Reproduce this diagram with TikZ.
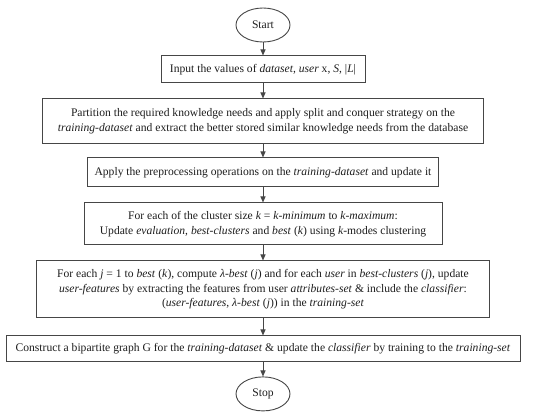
\documentclass[tikz,border=0pt]{standalone}
\usepackage{fontspec}
\setmainfont{Liberation Serif}
\usetikzlibrary{arrows.meta,positioning,shapes.geometric}
\definecolor{ink}{RGB}{30,30,30}
\definecolor{frame}{RGB}{70,70,70}
\tikzset{
  every picture/.style={color=ink, line width=0.6pt, font=\fontsize{11.6}{14.5}\selectfont},
  node distance=15pt,
  stepbox/.style={draw=frame, line width=1pt, fill=white, inner sep=3pt, align=center},
  term/.style={ellipse, draw=frame, line width=0.9pt, minimum width=54pt, minimum height=34pt, inner sep=1pt},
  flow/.style={-{Triangle[length=6pt,width=5pt]}, line width=1pt, color=frame},
}

\begin{document}
\begin{tikzpicture}
  \useasboundingbox (0,0) rectangle (550pt,-415pt);
  % terminals and steps, top to bottom
  \node[term] (start) at (263pt,-25pt) {Start};
  \node[stepbox, minimum width=204pt, minimum height=27pt, below=13pt of start] (input) {Input the values of \textit{dataset}, \textit{user} x, \textit{S}, |\textit{L}|};
  \node[stepbox, minimum width=441pt, minimum height=45pt, below=15pt of input] (part) {Partition the required knowledge needs and apply split and conquer strategy on the\\\textit{training-dataset} and extract the better stored similar knowledge needs from the database};
  \node[stepbox, minimum width=351pt, minimum height=29pt, below=13pt of part] (prep) {Apply the preprocessing operations on the \textit{training-dataset} and update it};
  \node[stepbox, minimum width=358pt, minimum height=42pt, below=15pt of prep] (clus) {For each of the cluster size \textit{k} = \textit{k-minimum} to \textit{k-maximum}:\\Update \textit{evaluation}, \textit{best-clusters} and \textit{best} (\textit{k}) using \textit{k}-modes clustering};
  \node[stepbox, minimum width=453pt, minimum height=57pt, below=15pt of clus] (feat) {For each \textit{j} = 1 to \textit{best} (\textit{k}), compute \textit{λ-best} (\textit{j}) and for each \textit{user} in \textit{best-clusters} (\textit{j}), update\\\textit{user-features} by extracting the features from user \textit{attributes-set} \& include the \textit{classifier}:\\(\textit{user-features}, \textit{λ-best} (\textit{j})) in the \textit{training-set}};
  \node[stepbox, minimum width=514pt, minimum height=26pt, below=17pt of feat] (graph) {Construct a bipartite graph G for the \textit{training-dataset} \& update the \textit{classifier} by training to the \textit{training-set}};
  \node[term, below=14pt of graph] (stop) {Stop};

  \draw[flow] (start) -- (input);
  \draw[flow] (input) -- (part);
  \draw[flow] (part) -- (prep);
  \draw[flow] (prep) -- (clus);
  \draw[flow] (clus) -- (feat);
  \draw[flow] (feat) -- (graph);
  \draw[flow] (graph) -- (stop);
\end{tikzpicture}
\end{document}
